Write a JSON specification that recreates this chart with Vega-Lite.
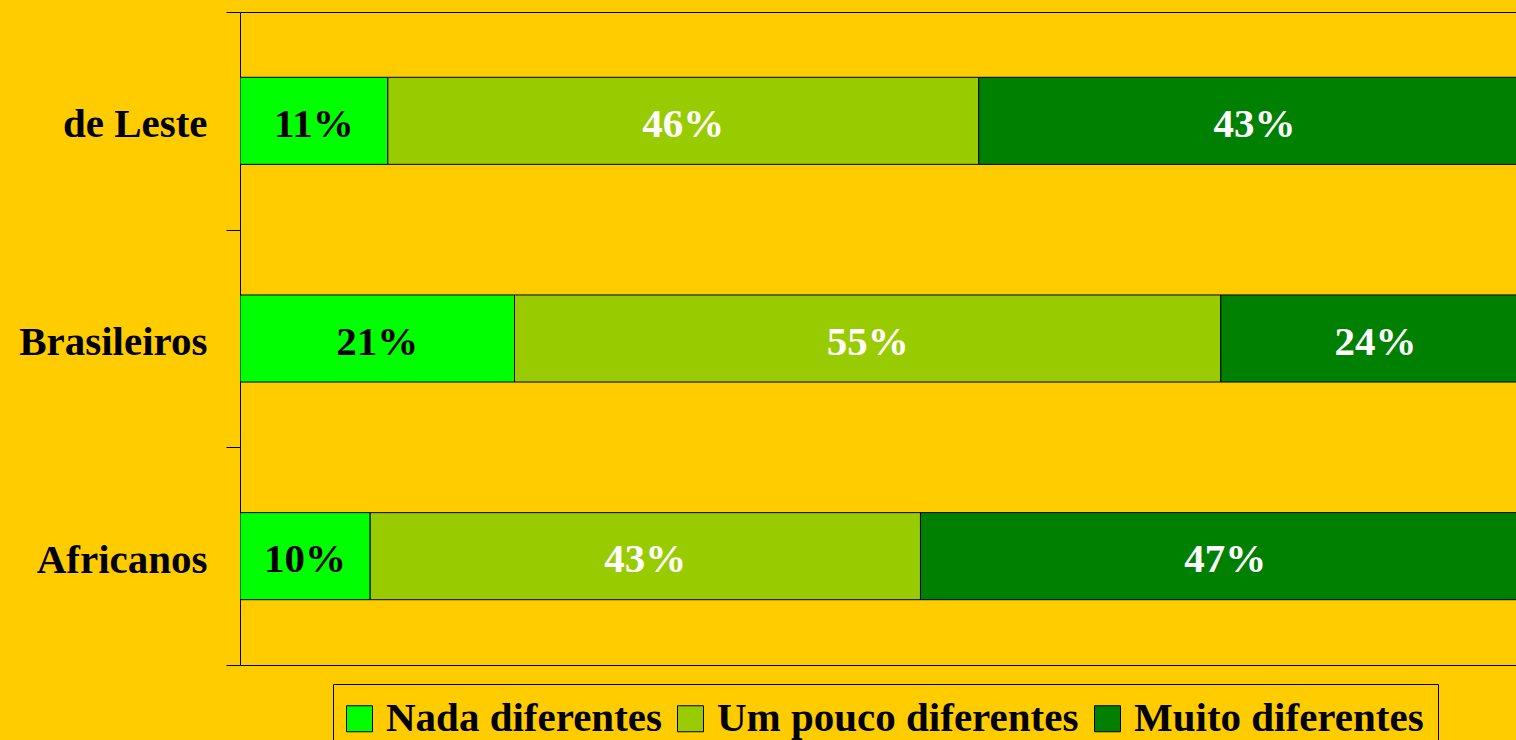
{
  "$schema": "https://vega.github.io/schema/vega-lite/v6.json",
  "width": 1276,
  "height": 653,
  "autosize": {"type": "none"},
  "padding": {"left": 240, "top": 12, "right": 0, "bottom": 75},
  "background": "#FFCC00",
  "config": {"view": {"stroke": null}, "font": "Liberation Serif"},
  "data": {
    "values": [
      {"grupo": "de Leste", "categoria": "Nada diferentes", "ordem": 1, "valor": 11.46, "rotulo": "11%"},
      {"grupo": "de Leste", "categoria": "Um pouco diferentes", "ordem": 2, "valor": 45.81, "rotulo": "46%"},
      {"grupo": "de Leste", "categoria": "Muito diferentes", "ordem": 3, "valor": 42.73, "rotulo": "43%"},
      {"grupo": "Brasileiros", "categoria": "Nada diferentes", "ordem": 1, "valor": 21.28, "rotulo": "21%"},
      {"grupo": "Brasileiros", "categoria": "Um pouco diferentes", "ordem": 2, "valor": 54.75, "rotulo": "55%"},
      {"grupo": "Brasileiros", "categoria": "Muito diferentes", "ordem": 3, "valor": 23.97, "rotulo": "24%"},
      {"grupo": "Africanos", "categoria": "Nada diferentes", "ordem": 1, "valor": 10.09, "rotulo": "10%"},
      {"grupo": "Africanos", "categoria": "Um pouco diferentes", "ordem": 2, "valor": 42.66, "rotulo": "43%"},
      {"grupo": "Africanos", "categoria": "Muito diferentes", "ordem": 3, "valor": 47.25, "rotulo": "47%"}
    ]
  },
  "transform": [
    {"stack": "valor", "groupby": ["grupo"], "sort": [{"field": "ordem"}], "as": ["inicio", "fim"]},
    {"calculate": "(datum.inicio + datum.fim) / 2", "as": "meio"}
  ],
  "encoding": {
    "y": {
      "field": "grupo",
      "type": "nominal",
      "sort": ["de Leste", "Brasileiros", "Africanos"],
      "scale": {"paddingInner": 0, "paddingOuter": 0},
      "axis": {
        "title": null,
        "tickBand": "extent",
        "domainColor": "black",
        "domainWidth": 1,
        "tickColor": "black",
        "tickWidth": 1,
        "tickSize": 14,
        "labelPadding": 19,
        "labelOffset": 4,
        "labelFont": "Liberation Serif",
        "labelFontSize": 41,
        "labelFontWeight": "bold",
        "labelColor": "black",
        "labelLimit": 0,
        "grid": false
      }
    }
  },
  "layer": [
    {
      "mark": {"type": "bar", "height": {"band": 0.4}, "stroke": "black", "strokeWidth": 1, "clip": true},
      "encoding": {
        "x": {
          "field": "inicio",
          "type": "quantitative",
          "scale": {"domain": [0, 98.915], "nice": false, "zero": true},
          "axis": {"orient": "bottom", "title": null, "labels": false, "ticks": false, "grid": false, "domainColor": "black", "domainWidth": 1}
        },
        "x2": {"field": "fim"},
        "color": {
          "field": "categoria",
          "type": "nominal",
          "scale": {
            "domain": ["Nada diferentes", "Um pouco diferentes", "Muito diferentes"],
            "range": ["#00FF00", "#99CC00", "#008000"]
          },
          "legend": {
            "title": null,
            "orient": "none",
            "direction": "horizontal",
            "legendX": 93,
            "legendY": 672,
            "padding": 14,
            "strokeColor": "black",
            "symbolType": "square",
            "symbolSize": 676,
            "symbolOffset": -8,
            "symbolStrokeColor": "black",
            "symbolStrokeWidth": 1,
            "symbolOpacity": 1,
            "labelFont": "Liberation Serif",
            "labelFontSize": 41,
            "labelFontWeight": "bold",
            "labelColor": "black",
            "labelOffset": 6,
            "labelLimit": 0,
            "columnPadding": 13
          }
        }
      }
    },
    {
      "mark": {"type": "text", "font": "Liberation Serif", "fontSize": 41, "fontWeight": "bold", "align": "center", "baseline": "middle", "dy": 4},
      "encoding": {
        "x": {
          "field": "meio",
          "type": "quantitative",
          "axis": {"orient": "top", "title": null, "labels": false, "ticks": false, "grid": false, "domainColor": "black", "domainWidth": 1}
        },
        "text": {"field": "rotulo"},
        "color": {"condition": {"test": "datum.ordem === 1", "value": "black"}, "value": "white"}
      }
    }
  ],
  "resolve": {"axis": {"x": "independent"}}
}
